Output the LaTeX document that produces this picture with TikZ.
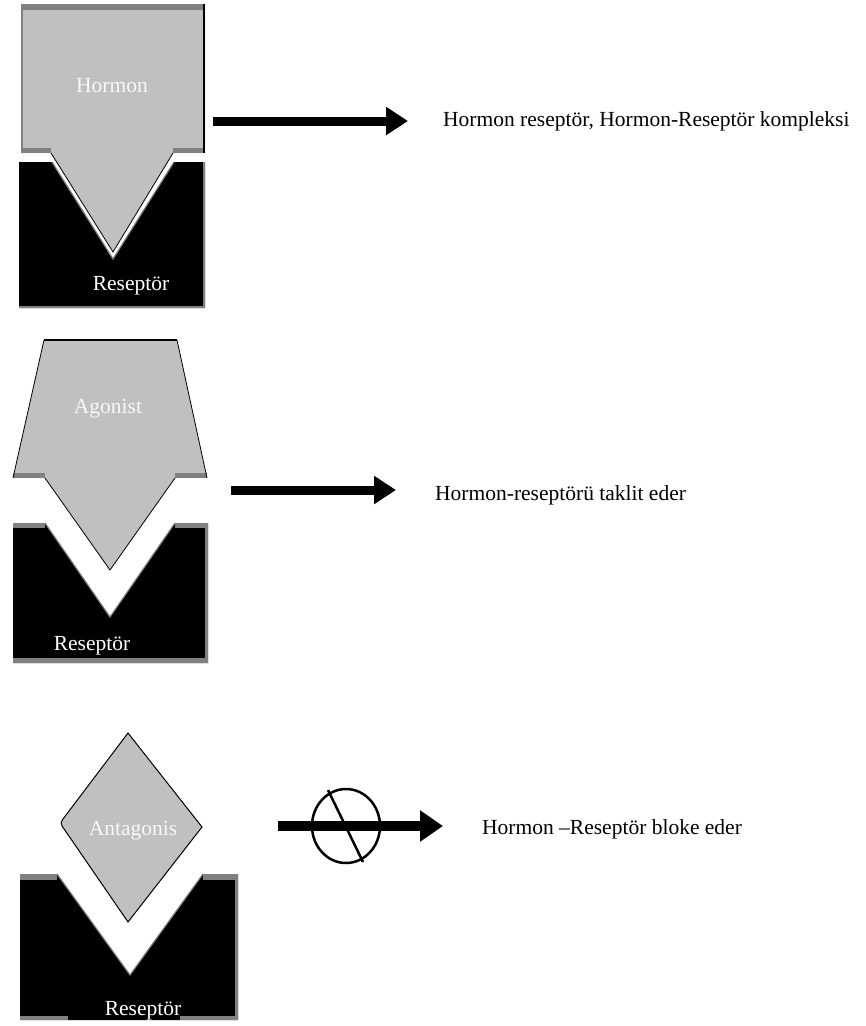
\documentclass[tikz,border=0pt]{standalone}
\usepackage{fontspec}
\setmainfont{Liberation Serif}
\usetikzlibrary{arrows.meta,shapes.geometric}
\definecolor{hgray}{HTML}{C0C0C0}
\definecolor{dgray}{HTML}{808080}
\definecolor{lbl}{HTML}{F8F8F8}
\tikzset{
  txt/.style={inner sep=0pt, font=\fontsize{21.5}{24}\selectfont, text=black},
  inlbl/.style={inner sep=0pt, font=\fontsize{21.5}{24}\selectfont, text=lbl},
  rlbl/.style={inner sep=0pt, font=\fontsize{21.5}{24}\selectfont, text=white},
  hormonefill/.style={fill=hgray},
  receptorfill/.style={fill=black},
  vedge/.style={draw=dgray, line width=1.2pt},
  hedge/.style={draw=black, line width=0.8pt},
  bigarrow/.style={draw=black, line width=9pt, -{Triangle[length=22pt,width=27pt]}},
}
\begin{document}
\begin{tikzpicture}[x=1pt,y=-1pt]
\useasboundingbox[fill=white] (0,0) rectangle (866,1026);

% ---------------- Shape 1 : Hormon ----------------
\path[receptorfill] (19,162) -- (52,162) -- (113,259) -- (174,162) -- (205,162) -- (205,308) -- (19,308) -- cycle;
\draw[vedge] (52,162) -- (113,259) -- (174,162);
\fill[dgray] (203,162) rectangle (205,308);
\fill[dgray] (19,306) rectangle (205,308);
\path[hormonefill] (21,4) -- (205,4) -- (205,153) -- (173,153) -- (113,252) -- (51,153) -- (21,153) -- cycle;
\fill[dgray] (21,4) rectangle (205,10);
\fill[dgray] (21,4) rectangle (23,153);
\fill[dgray] (21,148) rectangle (51,153);
\fill[dgray] (173,148) rectangle (205,153);
\draw[black, line width=1.5pt] (204,4) -- (204,153);
\draw[hedge] (51,153) -- (113,252) -- (173,153);
\node[inlbl, anchor=base] (h1) at (112,92) {Hormon};
\node[rlbl, anchor=base] (r1) at (131,290) {Reseptör};

% ---------------- Shape 2 : Agonist ----------------
\path[receptorfill] (13,523) -- (45,523) -- (110,617) -- (175,523) -- (208,523) -- (208,663) -- (13,663) -- cycle;
\draw[vedge] (45,523) -- (110,617) -- (175,523);
\fill[dgray] (13,523) rectangle (45,528);
\fill[dgray] (175,523) rectangle (208,528);
\fill[dgray] (205,523) rectangle (208,663);
\fill[dgray] (13,658) rectangle (208,663);
\path[hormonefill] (44,340) -- (177,340) -- (207,478) -- (175,478) -- (110,570) -- (45,478) -- (13,478) -- cycle;
\fill[dgray] (13,473) rectangle (45,478);
\fill[dgray] (175,473) rectangle (207,478);
\draw[black, line width=2.5pt] (44,340) -- (177,340);
\draw[hedge] (13,478) -- (44,340);
\draw[hedge] (177,340) -- (207,478);
\draw[hedge] (45,478) -- (110,570) -- (175,478);
\node[inlbl, anchor=base] (h2) at (108,413) {Agonist};
\node[rlbl, anchor=base] (r2) at (92,650) {Reseptör};

% ---------------- Shape 3 : Antagonis ----------------
\path[receptorfill] (20,874) -- (57,874) -- (130,975) -- (203,874) -- (238,874) -- (238,1020) -- (20,1020) -- cycle;
\draw[vedge] (57,874) -- (130,975) -- (203,874);
\fill[dgray] (20,874) rectangle (57,880);
\fill[dgray] (203,874) rectangle (238,880);
\fill[dgray] (235,874) rectangle (238,1020);
\fill[dgray] (20,1016) rectangle (68,1020);
\fill[dgray] (180,1016) rectangle (238,1020);
\draw[hedge, line width=1pt, hormonefill] (128,733) -- (202,827) -- (128,922) -- (64.5,829.6) .. controls (60,823) .. (64.8,816.6) -- cycle;
\node[inlbl, anchor=base] (h3) at (133,835) {Antagonis};
\node[rlbl, anchor=base] (r3) at (143,1015) {Reseptör};

% ---------------- Arrows ----------------
\coordinate (a1s) at (213,121);
\coordinate (a1e) at (408,121);
\draw[bigarrow] (a1s) -- (a1e);

\coordinate (a2s) at (231,490);
\coordinate (a2e) at (396,490);
\draw[bigarrow] (a2s) -- (a2e);

\node[draw=black, line width=2.5pt, ellipse, minimum width=68pt, minimum height=74pt, inner sep=0pt] (blk) at (346,826) {};
\coordinate (s1) at (328,790);
\coordinate (s2) at (363,862);
\draw[black, line width=2.5pt] (s1) -- (s2);
\coordinate (a3s) at (278,826);
\coordinate (a3e) at (443,826);
\draw[draw=black, line width=10pt, -{Triangle[length=23pt,width=30pt]}] (a3s) -- (a3e);

% ---------------- Texts ----------------
\node[txt, anchor=base west] (t1) at (443,126) {Hormon reseptör, Hormon-Reseptör kompleksi};
\node[txt, anchor=base west] (t2) at (435,500) {Hormon-reseptörü taklit eder};
\node[txt, anchor=base west] (t3) at (482,834) {Hormon –Reseptör bloke eder};
\end{tikzpicture}
\end{document}
